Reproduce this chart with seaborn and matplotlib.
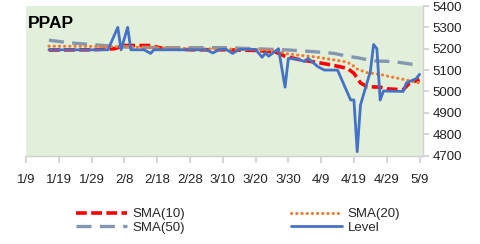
import pandas as pd
import seaborn as sns
import matplotlib.pyplot as plt

YEAR = 2019

level_dates = ["1/16", "2/3", "2/6", "2/7", "2/9", "2/10", "2/14", "2/16", "2/17", "3/5",
               "3/7", "3/9", "3/11", "3/13", "3/15", "3/20", "3/22", "3/23", "3/24", "3/27",
               "3/29", "3/30", "4/2", "4/4", "4/5", "4/8", "4/10", "4/14", "4/18", "4/19",
               "4/20", "4/21", "4/24", "4/25", "4/26", "4/27", "4/28", "5/4", "5/5", "5/8", "5/9"]
level_vals = [5195, 5195, 5300, 5195, 5300, 5195, 5195, 5178, 5195, 5195,
              5180, 5197, 5197, 5178, 5197, 5197, 5160, 5180, 5165, 5200,
              5020, 5155, 5150, 5140, 5155, 5116, 5100, 5100, 4960, 4960,
              4718, 4937, 5093, 5220, 5200, 4960, 5002, 5000, 5040, 5060, 5080]

sma10_dates = ["1/16", "1/29", "2/5", "2/8", "2/16", "2/20", "3/1", "3/10", "3/20", "3/26",
               "3/29", "4/2", "4/6", "4/10", "4/14", "4/17", "4/19", "4/21", "4/23", "4/27",
               "4/29", "5/4", "5/6", "5/9"]
sma10_vals = [5194, 5195, 5200, 5215, 5215, 5200, 5195, 5195, 5192, 5185,
              5165, 5150, 5140, 5130, 5118, 5108, 5085, 5040, 5022, 5020,
              5012, 5008, 5040, 5055]

sma20_dates = ["1/16", "2/5", "2/15", "3/1", "3/20", "3/27", "3/29", "4/2", "4/7", "4/12",
               "4/16", "4/18", "4/20", "4/23", "4/27", "4/30", "5/3", "5/6", "5/9"]
sma20_vals = [5212, 5210, 5205, 5200, 5197, 5190, 5178, 5170, 5162, 5150,
              5140, 5130, 5105, 5088, 5080, 5069, 5060, 5050, 5040]

sma50_dates = ["1/16", "1/22", "1/31", "2/8", "2/20", "3/10", "3/20", "3/30", "4/7", "4/13",
               "4/17", "4/20", "4/25", "5/1", "5/9"]
sma50_vals = [5240, 5228, 5217, 5208, 5205, 5205, 5200, 5194, 5186, 5178,
              5165, 5158, 5143, 5140, 5122]

yticks = [4700, 4800, 4900, 5000, 5100, 5200, 5300, 5400]


def to_dates(lst):
    return pd.to_datetime([f"{YEAR}/{d}" for d in lst], format="%Y/%m/%d")


sns.set_theme(style="white")
plt.rcParams["font.family"] = ["Liberation Sans", "DejaVu Sans"]

fig = plt.figure(figsize=(4.81, 2.44), dpi=100)
ax = fig.add_axes([0.054, 0.3627, 0.825, 0.6127])
ax.set_facecolor("#E2EFDA")

series = [
    ("SMA(10)", sma10_dates, sma10_vals, "#FF0000", (3, 1.2), 2.6),
    ("SMA(50)", sma50_dates, sma50_vals, "#8497B0", (4.5, 2.5), 2.4),
    ("SMA(20)", sma20_dates, sma20_vals, "#ED7D31", (0.1, 1.6), 2.2),
    ("Level", level_dates, level_vals, "#4472C4", None, 2.0),
]
handles = []
for name, dts, vals, col, dash, lw in series:
    df = pd.DataFrame({"date": to_dates(dts), "value": vals})
    sns.lineplot(data=df, x="date", y="value", ax=ax, color=col, linewidth=lw, label=name)
    line = ax.lines[-1]
    if dash is not None:
        line.set_dashes(dash)
        if name == "SMA(20)":
            line.set_dash_capstyle("round")
    handles.append(line)

ax.set_xlim(pd.Timestamp(f"{YEAR}-01-09"), pd.Timestamp(f"{YEAR}-05-10"))
ax.set_ylim(4700, 5400)
xt = pd.date_range(f"{YEAR}-01-09", periods=13, freq="10D")
ax.set_xticks(xt)
ax.set_xticklabels([f"{d.month}/{d.day}" for d in xt], fontsize=9.5, color="#222222")
ax.yaxis.tick_right()
ax.set_yticks(yticks)
ax.set_yticklabels([str(v) for v in yticks], fontsize=9.5, color="#222222")
ax.set_xlabel("")
ax.set_ylabel("")
for s in ["top", "left"]:
    ax.spines[s].set_visible(False)
for s in ["bottom", "right"]:
    ax.spines[s].set_color("#D0D0D0")
    ax.spines[s].set_linewidth(1)
ax.tick_params(axis="x", length=5, color="#D0D0D0", pad=8, bottom=True)
ax.tick_params(axis="y", length=4, color="#D0D0D0", pad=3, right=True)
ax.text(0.005, 0.935, "PPAP", transform=ax.transAxes, fontsize=12.5, fontweight="bold",
        va="top", ha="left", color="black")

ax.get_legend().remove()
fig.legend(handles=handles, labels=[h.get_label() for h in handles], ncol=2,
           loc="center", bbox_to_anchor=(0.495, 0.095), frameon=False, fontsize=9.5,
           handlelength=3.9, columnspacing=8, labelspacing=0.1, handletextpad=0.4)

fig.savefig("out.png", dpi=100)
